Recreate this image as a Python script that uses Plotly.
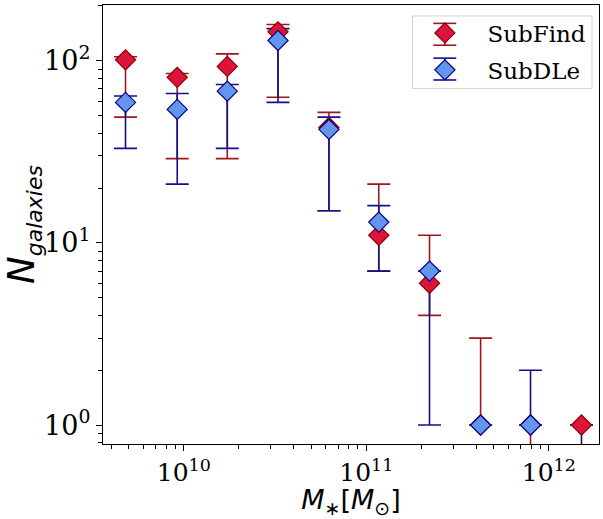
import plotly.graph_objects as go

# ---- data ----
stellar_mass = [4.79e9, 9.2e9, 1.73e10, 3.28e10, 6.24e10, 1.17e11, 2.22e11, 4.23e11, 7.94e11, 1.51e12]

subfind_n     = [101, 81, 93, 144, 43, 11, 6, 1, 1, 1]
subfind_upper = [105, 85, 109, 158, 52, 21, 11, 3, 1, 1]
subfind_lower = [49, 29, 29, 63, 15, 7, 4, 1, 0, 1]

subdle_n      = [59, 54, 68, 129, 42, 13, 7, 1, 1, 0]
subdle_upper  = [64, 66, 74, 150, 49, 16, 7, 1, 2, 1]
subdle_lower  = [33, 21, 33, 59, 15, 7, 1, 1, 1, 0]

ytick_vals = [1, 10, 100]
ytick_text = ["10<sup>0</sup>", "10<sup>1</sup>", "10<sup>2</sup>"]
xtick_vals = [1e10, 1e11, 1e12]
xtick_text = ["10<sup>10</sup>", "10<sup>11</sup>", "10<sup>12</sup>"]

FLOOR = 0.5  # zero counts cannot be shown on a log axis: bars run off the bottom

def err_arrays(n, lo, hi):
    ys, plus, minus = [], [], []
    for v, l, h in zip(n, lo, hi):
        y = v if v > 0 else h
        l = l if l > 0 else FLOOR
        ys.append(y)
        plus.append(h - y)
        minus.append(y - l)
    return ys, plus, minus

series = [
    ("SubFind", subfind_n, subfind_lower, subfind_upper, "#DC143C", "#8B0000", "#a01818"),
    ("SubDLe", subdle_n, subdle_lower, subdle_upper, "#6495ED", "#000080", "#101090"),
]

fig = go.Figure()

# error bars first (below all markers, like matplotlib)
for name, n, lo, hi, fill, edge, barc in series:
    ys, plus, minus = err_arrays(n, lo, hi)
    fig.add_trace(go.Scatter(
        x=stellar_mass, y=ys, mode="markers",
        marker=dict(size=1, color="rgba(0,0,0,0)"),
        error_y=dict(type="data", array=plus, arrayminus=minus, symmetric=False,
                     color=barc, thickness=1.6, width=11.5),
        showlegend=False, hoverinfo="skip"))

for i, (name, n, lo, hi, fill, edge, barc) in enumerate(series):
    fig.add_trace(go.Scatter(
        x=stellar_mass, y=[v if v > 0 else None for v in n], mode="markers", name=name,
        legendgroup=f"g{i}",
        marker=dict(symbol="diamond", size=15.5, color=fill, line=dict(color=edge, width=1.2))))

# ---- legend frame and error-bar glyphs (decoration in paper coordinates) ----
PL, PR, PT, PB = 103, 600, 5, 447  # plot area in pixels
def px(x): return (x - PL) / (PR - PL)
def py(y): return (PB - y) / (PB - PT)

shapes = [dict(type="rect", xref="paper", yref="paper", x0=px(413), x1=px(593), y0=py(89), y1=py(16),
               line=dict(color="#d0d0d0", width=1), fillcolor="rgba(255,255,255,0.85)", layer="above")]
for (name, n, lo, hi, fill, edge, barc), (ctop, cbot) in zip(series, [(23.5, 45.5), (58.5, 80.5)]):
    xc = 445.5
    shapes.append(dict(type="line", xref="paper", yref="paper", x0=px(xc), x1=px(xc), y0=py(ctop), y1=py(cbot),
                       line=dict(color=barc, width=1.6), layer="above"))
    for yc in (ctop, cbot):
        shapes.append(dict(type="line", xref="paper", yref="paper", x0=px(xc - 11.5), x1=px(xc + 11.5),
                           y0=py(yc), y1=py(yc), line=dict(color=barc, width=1.6), layer="above"))

axis_common = dict(type="log", showline=True, linecolor="black", linewidth=1.2, mirror=True,
                   ticks="outside", ticklen=6, tickwidth=1.2, tickcolor="black",
                   showgrid=False, zeroline=False,
                   tickfont=dict(family="DejaVu Serif", size=27, color="black"),
                   minor=dict(ticks="outside", ticklen=3.5, tickwidth=1, tickcolor="black",
                              showgrid=False, dtick="D1"))

fig.update_layout(
    width=603, height=519,
    margin=dict(l=103, r=3, t=5, b=72),
    paper_bgcolor="white", plot_bgcolor="white",
    shapes=shapes,
    xaxis=dict(axis_common, range=[9.557, 12.275], tickvals=xtick_vals, ticktext=xtick_text,
               tickfont=dict(family="DejaVu Serif", size=25, color="black"),
               title=dict(text="<i>M</i><sub>∗</sub>[<i>M</i><sub>⊙</sub>]",
                          font=dict(family="DejaVu Sans", size=27, color="black"), standoff=10)),
    yaxis=dict(axis_common, range=[-0.104, 2.3055], tickvals=ytick_vals, ticktext=ytick_text,
               title=dict(text="<i>N</i><sub><span style='font-size:22px'><i>galaxies</i></span></sub>",
                          font=dict(family="DejaVu Sans", size=37, color="black"), standoff=6)),
    legend=dict(x=px(403), y=py(11.5), xanchor="left", yanchor="top",
                bgcolor="rgba(0,0,0,0)", borderwidth=0,
                font=dict(family="DejaVu Serif", size=23, color="black"),
                itemwidth=75, tracegroupgap=4),
)

fig.write_html("out.html")
